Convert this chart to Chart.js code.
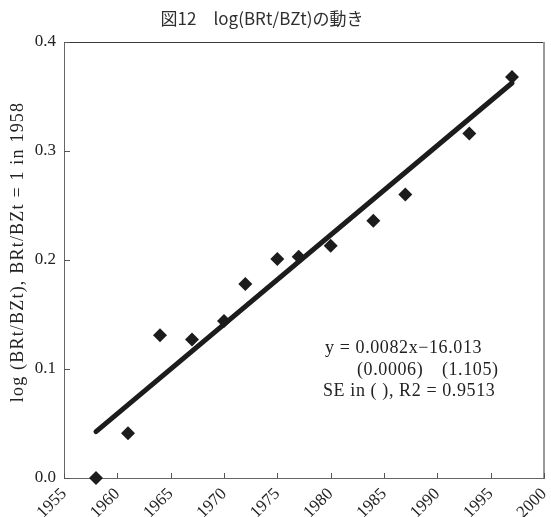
<!DOCTYPE html>
<html>
<head>
<meta charset="utf-8">
<script src="https://cdn.jsdelivr.net/npm/chart.js@4/dist/chart.umd.min.js"></script>
<style>
  html, body { margin: 0; padding: 0; background: #ffffff; }
  #wrap { width: 551px; height: 517px; }
</style>
</head>
<body>
<div id="wrap"><canvas id="chart" width="551" height="517"></canvas></div>
<script>
// Observed years and log(BRt/BZt), normalised so that BRt/BZt = 1 in 1958
const years    = [1958, 1961, 1964, 1967, 1970, 1972, 1975, 1977, 1980, 1984, 1987, 1993, 1997];
const logRatio = [0.000, 0.041, 0.131, 0.127, 0.144, 0.178, 0.201, 0.203, 0.213, 0.236, 0.260, 0.316, 0.368];

// Fitted trend: y = 0.0082x - 16.013 over the observed span
const fitSlope = 0.0082;
const fitIntercept = -16.013;
const fitYears = [1958, 1997];

// Axis ticks
const xTicks = [1955, 1960, 1965, 1970, 1975, 1980, 1985, 1990, 1995, 2000];
const yTicks = [0.0, 0.1, 0.2, 0.3, 0.4];

// Texts
const chartTitle = '図12\u3000log(BRt/BZt)の動き';
const yTitle = 'log (BRt/BZt), BRt/BZt = 1 in 1958';
const fitLines = ['y = 0.0082x\u221216.013', '(0.0006)\u2003(1.105)', 'SE in ( ), R2 = 0.9513'];

const INK = '#1c1c1c';
const SERIF = '"Liberation Serif", "Times New Roman", serif';

const pointData = years.map((y, i) => ({ x: y, y: logRatio[i] }));
const fitData = fitYears.map(y => ({ x: y, y: fitSlope * y + fitIntercept }));

// Inward tick marks, frame, titles and the regression note
const decorations = {
  id: 'decorations',
  beforeDatasetsDraw(chart) {
    const { ctx, chartArea: a, scales } = chart;
    ctx.save();
    // top and right frame lines
    ctx.strokeStyle = '#3a3a3a';
    ctx.lineWidth = 1;
    ctx.beginPath();
    ctx.moveTo(a.left, a.top + 0.5);
    ctx.lineTo(a.right, a.top + 0.5);
    ctx.stroke();
    ctx.strokeStyle = '#9a9a9a';
    ctx.lineWidth = 2;
    ctx.beginPath();
    ctx.moveTo(a.right, a.top);
    ctx.lineTo(a.right, a.bottom);
    ctx.stroke();
    // inner ticks
    ctx.strokeStyle = '#555555';
    ctx.lineWidth = 1;
    ctx.beginPath();
    scales.x.ticks.forEach(t => {
      const px = Math.round(scales.x.getPixelForValue(t.value)) + 0.5;
      ctx.moveTo(px, a.bottom);
      ctx.lineTo(px, a.bottom - 5);
    });
    scales.y.ticks.forEach(t => {
      const py = Math.round(scales.y.getPixelForValue(t.value)) + 0.5;
      ctx.moveTo(a.left, py);
      ctx.lineTo(a.left + 6, py);
    });
    ctx.stroke();
    ctx.restore();
  },
  afterDraw(chart) {
    const { ctx } = chart;
    ctx.save();
    // chart title
    ctx.fillStyle = '#2e2e2e';
    ctx.font = '17px "Noto Sans CJK JP", "Noto Sans", sans-serif';
    ctx.textAlign = 'center';
    ctx.textBaseline = 'middle';
    ctx.fillText(chartTitle, 262, 19);
    // y-axis title
    ctx.save();
    ctx.translate(18, 252);
    ctx.rotate(-Math.PI / 2);
    ctx.font = '18px ' + SERIF;
    ctx.fillStyle = '#222222';
    ctx.letterSpacing = '1.2px';
    ctx.textAlign = 'center';
    ctx.textBaseline = 'middle';
    ctx.fillText(yTitle, 0, 0);
    ctx.restore();
    // regression note
    ctx.font = '18px ' + SERIF;
    ctx.fillStyle = '#222222';
    ctx.letterSpacing = '0.6px';
    ctx.textAlign = 'left';
    ctx.textBaseline = 'alphabetic';
    ctx.fillText(fitLines[0], 325, 353);
    ctx.fillText(fitLines[1], 357, 374.5);
    ctx.fillText(fitLines[2], 323, 396);
    ctx.restore();
  }
};

new Chart(document.getElementById('chart'), {
  type: 'scatter',
  data: {
    datasets: [
      {
        type: 'line',
        data: fitData,
        borderColor: INK,
        borderWidth: 5,
        borderCapStyle: 'round',
        pointRadius: 0,
        fill: false,
        order: 2
      },
      {
        data: pointData,
        pointStyle: 'rectRot',
        pointRadius: 7,
        pointBackgroundColor: INK,
        pointBorderColor: INK,
        pointBorderWidth: 0,
        clip: false,
        order: 1
      }
    ]
  },
  options: {
    responsive: false,
    animation: false,
    events: [],
    layout: { padding: { top: 42, right: 7, left: 0, bottom: 0 } },
    plugins: { legend: { display: false }, tooltip: { enabled: false }, title: { display: false } },
    scales: {
      x: {
        type: 'linear',
        min: 1955,
        max: 2000,
        afterBuildTicks(scale) { scale.ticks = xTicks.map(v => ({ value: v })); },
        afterFit(scale) { scale.height = 39; scale.paddingLeft = 0; scale.paddingRight = 0; },
        grid: { display: true, drawOnChartArea: false, drawTicks: false },
        border: { display: true, color: '#666666', width: 1 },
        ticks: {
          autoSkip: false,
          minRotation: 45,
          maxRotation: 45,
          padding: 6,
          color: '#222222',
          font: { family: SERIF, size: 17 },
          callback: v => String(v)
        }
      },
      y: {
        type: 'linear',
        min: 0,
        max: 0.4,
        afterBuildTicks(scale) { scale.ticks = yTicks.map(v => ({ value: v })); },
        afterFit(scale) { scale.width = 64; scale.paddingTop = 0; scale.paddingBottom = 0; },
        grid: { display: true, drawOnChartArea: false, drawTicks: false },
        border: { display: true, color: '#666666', width: 1 },
        ticks: {
          padding: 8,
          color: '#222222',
          font: { family: SERIF, size: 17 },
          callback: v => v.toFixed(1)
        }
      }
    }
  },
  plugins: [decorations]
});
</script>
</body>
</html>
